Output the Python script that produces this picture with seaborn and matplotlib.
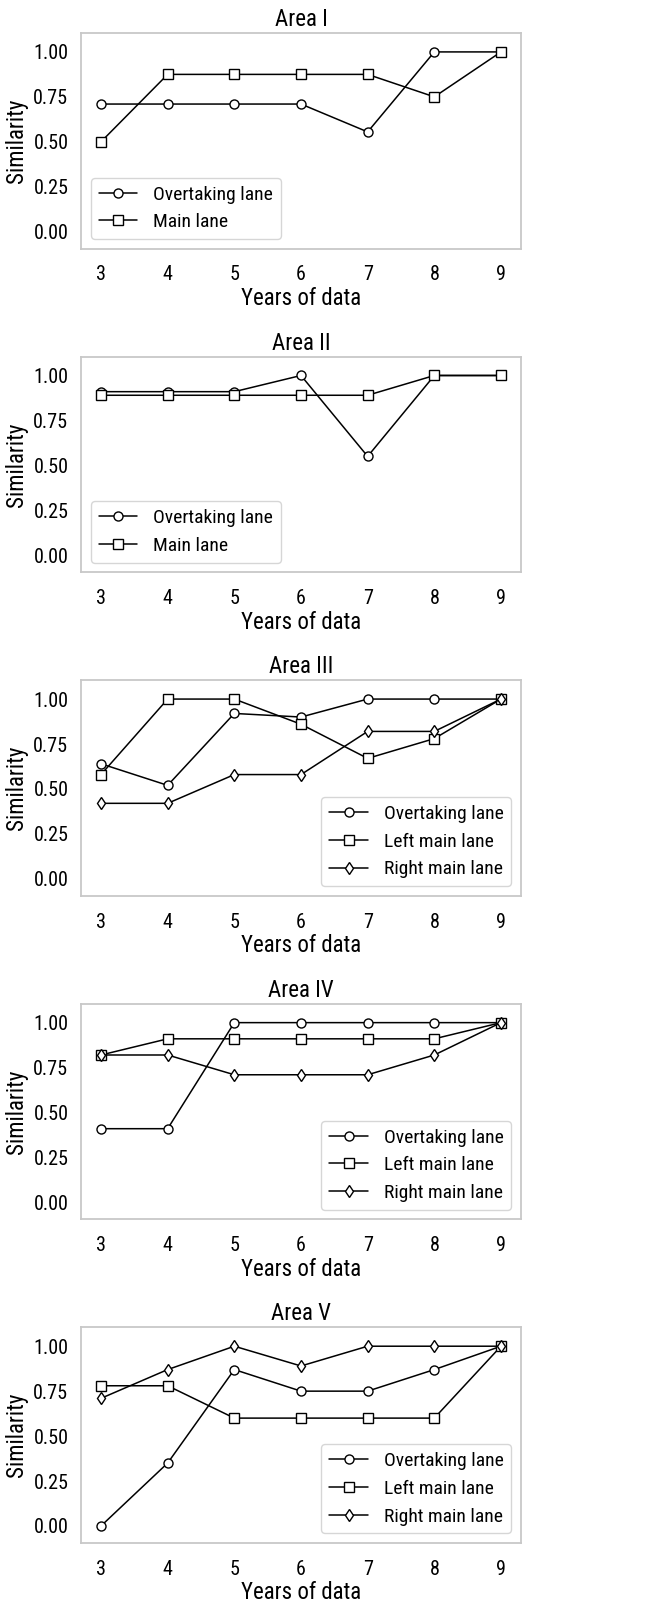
import matplotlib
matplotlib.use("Agg")
import matplotlib.pyplot as plt
import seaborn as sns
import pandas as pd

years = [3, 4, 5, 6, 7, 8, 9]

area_titles = ["Area I", "Area II", "Area III", "Area IV", "Area V"]

# Area I
a1_overtaking = [0.71, 0.71, 0.71, 0.71, 0.555, 1.00, 1.00]
a1_main = [0.50, 0.875, 0.875, 0.875, 0.875, 0.75, 1.00]
# Area II
a2_overtaking = [0.91, 0.91, 0.91, 1.00, 0.55, 1.00, 1.00]
a2_main = [0.89, 0.89, 0.89, 0.89, 0.89, 1.00, 1.00]
# Area III
a3_overtaking = [0.64, 0.52, 0.92, 0.90, 1.00, 1.00, 1.00]
a3_left = [0.58, 1.00, 1.00, 0.86, 0.67, 0.78, 1.00]
a3_right = [0.42, 0.42, 0.58, 0.58, 0.82, 0.82, 1.00]
# Area IV
a4_overtaking = [0.41, 0.41, 1.00, 1.00, 1.00, 1.00, 1.00]
a4_left = [0.82, 0.91, 0.91, 0.91, 0.91, 0.91, 1.00]
a4_right = [0.82, 0.82, 0.71, 0.71, 0.71, 0.82, 1.00]
# Area V
a5_overtaking = [0.00, 0.35, 0.87, 0.75, 0.75, 0.87, 1.00]
a5_left = [0.78, 0.78, 0.60, 0.60, 0.60, 0.60, 1.00]
a5_right = [0.71, 0.87, 1.00, 0.89, 1.00, 1.00, 1.00]

series_two = ["Overtaking lane", "Main lane"]
series_three = ["Overtaking lane", "Left main lane", "Right main lane"]
marker_map = {"Overtaking lane": "o", "Main lane": "s",
              "Left main lane": "s", "Right main lane": "d"}

areas = [
    (series_two, [a1_overtaking, a1_main], "lower left"),
    (series_two, [a2_overtaking, a2_main], "lower left"),
    (series_three, [a3_overtaking, a3_left, a3_right], "lower right"),
    (series_three, [a4_overtaking, a4_left, a4_right], "lower right"),
    (series_three, [a5_overtaking, a5_left, a5_right], "lower right"),
]

sns.set_style("white")
plt.rcParams["font.family"] = ["Roboto Condensed", "Archivo Narrow",
                               "Liberation Sans", "DejaVu Sans"]
plt.rcParams["text.color"] = "black"
plt.rcParams["axes.labelcolor"] = "black"
plt.rcParams["xtick.color"] = "black"
plt.rcParams["ytick.color"] = "black"

fig, axes = plt.subplots(5, 1, figsize=(6.48, 16.04), dpi=100)
fig.subplots_adjust(left=0.125, right=0.804, top=0.9794, bottom=0.038, hspace=0.5)

for ax, title, (names, vals, loc) in zip(axes, area_titles, areas):
    for name, v in zip(names, vals):
        df = pd.DataFrame({"year": years, "sim": v})
        sns.lineplot(data=df, x="year", y="sim", ax=ax, color="black",
                     marker=marker_map[name], markersize=6.5,
                     markerfacecolor="white", markeredgecolor="black",
                     markeredgewidth=1.0, linewidth=1.1, label=name)
    ax.set_ylim(-0.095, 1.105)
    ax.set_yticks([0.0, 0.25, 0.5, 0.75, 1.0])
    ax.set_yticklabels(["0.00", "0.25", "0.50", "0.75", "1.00"])
    ax.set_xticks(years)
    ax.tick_params(axis="both", labelsize=14.5, length=0)
    ax.tick_params(axis="x", pad=12)
    ax.tick_params(axis="y", pad=9)
    ax.set_xlabel("Years of data", fontsize=16.5, labelpad=2)
    ax.set_ylabel("Similarity", fontsize=16.5, labelpad=4)
    ax.set_title(title, fontsize=16.5, pad=5)
    for sp in ax.spines.values():
        sp.set_color("#c8c8c8")
        sp.set_linewidth(1.3)
    ax.legend(loc=loc, fontsize=14, frameon=True)

fig.savefig("out.png", dpi=100)
